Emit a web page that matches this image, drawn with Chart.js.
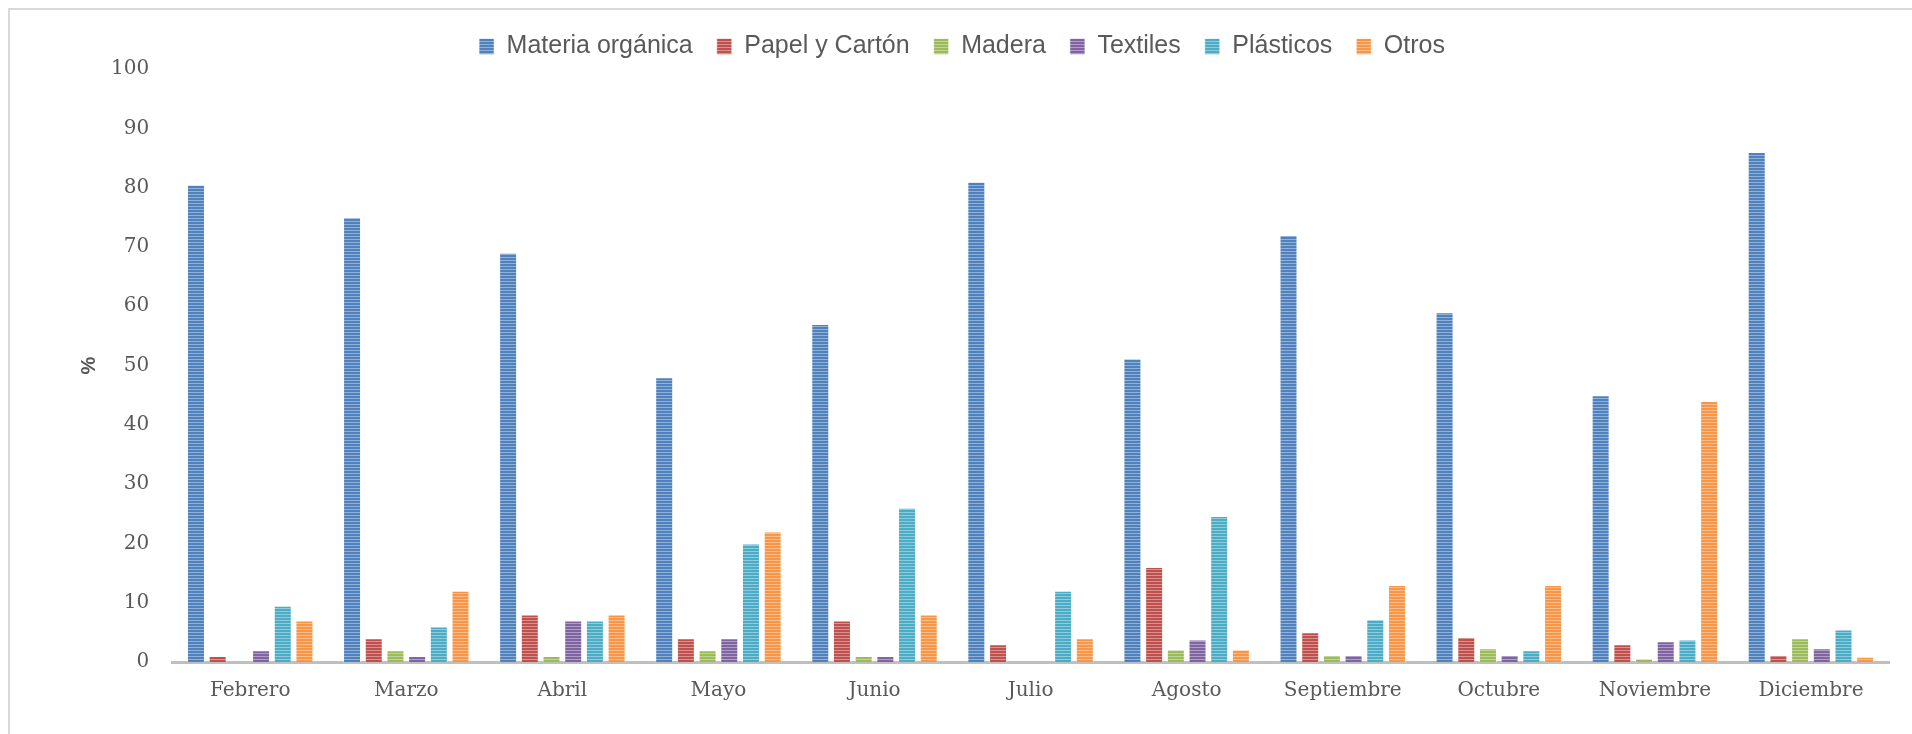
<!DOCTYPE html>
<html>
<head>
<meta charset="utf-8">
<script src="https://cdn.jsdelivr.net/npm/chart.js@4/dist/chart.umd.min.js"></script>
<style>
  html, body { margin: 0; padding: 0; background: #fff; overflow: hidden; }
  #wrap { position: relative; width: 1912px; height: 734px; }
  #frame { position: absolute; left: 8px; top: 8px; width: 1920px; height: 760px;
           border-left: 2px solid #d9d9d9; border-top: 2px solid #d9d9d9; pointer-events: none; }
  canvas { position: absolute; left: 0; top: 0; }
</style>
</head>
<body>
<div id="wrap">
  <div id="frame"></div>
  <canvas id="chart" width="1912" height="734"></canvas>
</div>
<script>
// months on the x axis
const months = ['Febrero', 'Marzo', 'Abril', 'Mayo', 'Junio', 'Julio', 'Agosto', 'Septiembre', 'Octubre', 'Noviembre', 'Diciembre'];

// % per waste type
const organica  = [80.5, 75, 69, 48, 57, 81, 51.2, 72, 59, 45, 86];
const papel     = [1, 4, 8, 4, 7, 3, 16, 5, 4.2, 3, 1.2];
const madera    = [0, 2, 1, 2, 1, 0, 2.1, 1.2, 2.3, 0.6, 4];
const textiles  = [2, 1, 7, 4, 1, 0, 3.8, 1.2, 1.2, 3.5, 2.3];
const plasticos = [9.5, 6, 7, 20, 26, 12, 24.6, 7.2, 2, 3.8, 5.5];
const otros     = [7, 12, 8, 22, 8, 4, 2.1, 13, 13, 44, 0.9];

const seriesNames = ['Materia orgánica', 'Papel y Cartón', 'Madera', 'Textiles', 'Plásticos', 'Otros'];
const seriesColors = ['#4f81bd', '#c0504d', '#9bbb59', '#8064a2', '#4bacc6', '#f79646'];

const ctx = document.getElementById('chart').getContext('2d');

// horizontal stripe fill like the office "gradient" bars
function stripes(color) {
  const c = document.createElement('canvas');
  c.width = 4; c.height = 3;
  const g = c.getContext('2d');
  g.fillStyle = color;
  g.fillRect(0, 0, 4, 3);
  g.fillStyle = 'rgba(255,255,255,0.38)';
  g.fillRect(0, 2, 4, 1);
  return ctx.createPattern(c, 'repeat');
}

const values = [organica, papel, madera, textiles, plasticos, otros];
const datasets = values.map((v, i) => ({
  label: seriesNames[i],
  data: v,
  backgroundColor: stripes(seriesColors[i]),
  borderColor: 'rgba(255,255,255,0.55)',
  borderWidth: 1,
  categoryPercentage: 0.834,
  barPercentage: 0.83
}));

const serif = '"DejaVu Serif", "Liberation Serif", serif';
const textColor = '#595959';

new Chart(ctx, {
  type: 'bar',
  data: { labels: months, datasets: datasets },
  options: {
    responsive: false,
    animation: false,
    // left padding kept small so the legend centres like the original;
    // the y title's outer padding makes up the rest
    layout: { padding: { left: 35, right: 23, top: 10, bottom: 14 } },
    plugins: {
      tooltip: { enabled: false },
      legend: {
        position: 'top',
        align: 'center',
        labels: {
          boxWidth: 15,
          boxHeight: 16,
          padding: 24,
          color: textColor,
          font: { family: '"Liberation Sans", Arial, sans-serif', size: 25 }
        }
      }
    },
    scales: {
      x: {
        grid: { display: false, drawTicks: false },
        border: { display: true, color: '#bfbfbf', width: 3 },
        ticks: { color: textColor, padding: 17, font: { family: serif, size: 20 } }
      },
      y: {
        min: 0,
        max: 100,
        grid: { display: false, drawTicks: false },
        border: { display: false },
        ticks: { stepSize: 10, color: textColor, padding: 23, font: { family: serif, size: 20 } },
        title: {
          display: true,
          text: '%',
          color: textColor,
          padding: { top: 42, bottom: -13 },
          font: { family: '"Liberation Sans", Arial, sans-serif', size: 20, weight: 'bold' }
        }
      }
    }
  }
});
</script>
</body>
</html>
